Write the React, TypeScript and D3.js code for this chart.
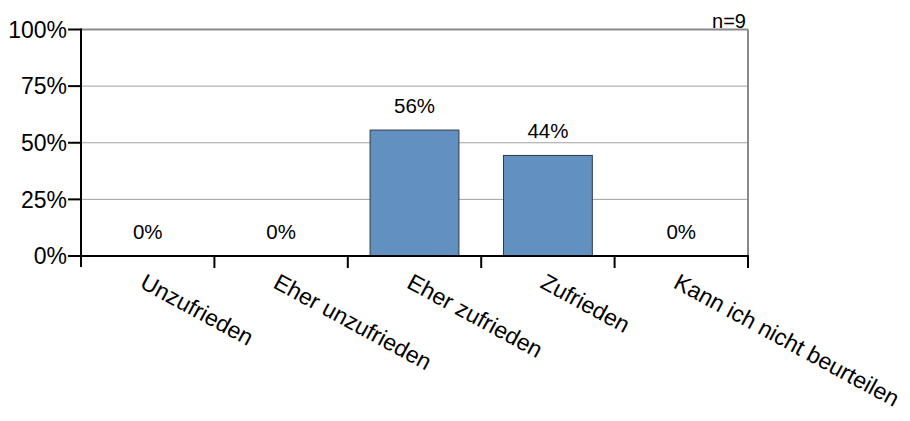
import React from "react";
import * as d3 from "d3";

const categories = ["Unzufrieden", "Eher unzufrieden", "Eher zufrieden", "Zufrieden", "Kann ich nicht beurteilen"];
const values = [0, 0, 55.6, 44.4, 0];
const valueLabels = ["0%", "0%", "56%", "44%", "0%"];
const yTicks = [0, 25, 50, 75, 100];
const nLabel = "n=9";

const W = 910;
const H = 421;
const left = 81;
const right = 748;
const top = 29.5;
const bottom = 256;
const FONT = "'Liberation Sans', Arial, Helvetica, sans-serif";

export default function App() {
  const x = d3.scaleBand<string>().domain(categories).range([left, right]).padding(0);
  const y = d3.scaleLinear().domain([0, 100]).range([bottom, top]);
  const bw = x.bandwidth() * 0.666;
  const boundaries = d3.range(categories.length + 1).map((i) => left + i * x.step());

  return (
    <svg width={W} height={H} style={{ position: "absolute", left: 0, top: 0, background: "#fff" }} fontFamily={FONT}>
      {yTicks.filter((t) => t > 0 && t < 100).map((t) => (
        <line key={"g" + t} x1={left} x2={right} y1={y(t)} y2={y(t)} stroke="#a0a0a0" strokeWidth={1} />
      ))}
      <line x1={left} x2={right} y1={y(100)} y2={y(100)} stroke="#8a8a8a" strokeWidth={2} />
      <line x1={right} x2={right} y1={y(100)} y2={bottom} stroke="#8a8a8a" strokeWidth={2} />

      {categories.map((c, i) => {
        const cx = (x(c) as number) + x.bandwidth() / 2;
        const v = values[i];
        return (
          <g key={c}>
            {v > 0 && (
              <rect x={cx - bw / 2} y={y(v)} width={bw} height={bottom - y(v)} fill="#6190c1" stroke="#2e3a48" strokeWidth={1} />
            )}
            <text x={cx} y={y(v) - 17.5} textAnchor="middle" fontSize={20.5} fill="#000">{valueLabels[i]}</text>
          </g>
        );
      })}

      <line x1={left} x2={left} y1={y(100) - 1} y2={267} stroke="#000" strokeWidth={2} />
      {yTicks.map((t) => (
        <g key={"t" + t}>
          <line x1={68} x2={left} y1={y(t)} y2={y(t)} stroke="#000" strokeWidth={2} />
          <text x={67} y={y(t)} dy="0.36em" textAnchor="end" fontSize={23} fill="#000">{t + "%"}</text>
        </g>
      ))}

      <line x1={left} x2={right + 1} y1={bottom} y2={bottom} stroke="#000" strokeWidth={2} />
      {boundaries.slice(1).map((bx, i) => (
        <line key={"xt" + i} x1={bx} x2={bx} y1={bottom} y2={268} stroke="#000" strokeWidth={2} />
      ))}

      {categories.map((c) => {
        const cx = (x(c) as number) + x.bandwidth() / 2;
        return (
          <text key={"l" + c} transform={`translate(${cx - 9},${287}) rotate(28.5)`} textAnchor="start" fontSize={23} fill="#000">{c}</text>
        );
      })}

      <text x={right - 2} y={28} textAnchor="end" fontSize={20} fill="#000">{nLabel}</text>
    </svg>
  );
}
